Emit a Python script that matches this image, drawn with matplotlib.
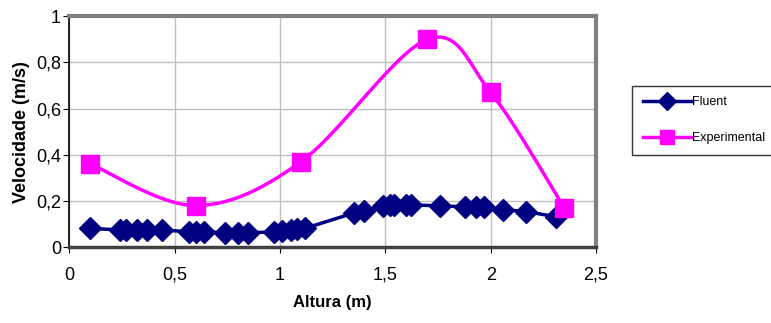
import numpy as np
import matplotlib.pyplot as plt
from matplotlib.ticker import FixedLocator, FuncFormatter

plt.rcParams['font.family'] = ['Liberation Sans', 'DejaVu Sans']

# Fluent (simulation) values
FluentX = [0.1, 0.24, 0.27, 0.32, 0.37, 0.44, 0.57, 0.6, 0.64, 0.74, 0.8, 0.85,
           0.97, 1.01, 1.05, 1.08, 1.12, 1.35, 1.4, 1.49, 1.52, 1.54, 1.6, 1.62,
           1.76, 1.88, 1.93, 1.97, 2.06, 2.17, 2.31]
FluentY = [0.081, 0.074, 0.074, 0.074, 0.074, 0.074, 0.066, 0.066, 0.066, 0.062,
           0.062, 0.062, 0.066, 0.068, 0.072, 0.077, 0.082, 0.148, 0.156, 0.178,
           0.182, 0.182, 0.183, 0.183, 0.178, 0.175, 0.175, 0.173, 0.162, 0.153,
           0.131]

# Experimental values
ExpX = [0.1, 0.6, 1.1, 1.7, 2.0, 2.35]
ExpY = [0.36, 0.18, 0.37, 0.90, 0.67, 0.17]

XTicks = [0, 0.5, 1, 1.5, 2, 2.5]
YTicks = [0, 0.2, 0.4, 0.6, 0.8, 1]


def Smooth_Line(X, Y, Steps=20):
    # Catmull-Rom style smoothing, like the spreadsheet "smoothed line"
    X = np.asarray(X, float)
    Y = np.asarray(Y, float)
    Px = np.concatenate([[X[0]], X, [X[-1]]])
    Py = np.concatenate([[Y[0]], Y, [Y[-1]]])
    OutX = []
    OutY = []
    T = np.linspace(0, 1, Steps)
    for i in range(1, len(Px) - 2):
        C1x = Px[i] + (Px[i + 1] - Px[i - 1]) / 6
        C1y = Py[i] + (Py[i + 1] - Py[i - 1]) / 6
        C2x = Px[i + 1] - (Px[i + 2] - Px[i]) / 6
        C2y = Py[i + 1] - (Py[i + 2] - Py[i]) / 6
        Bx = ((1 - T) ** 3 * Px[i] + 3 * (1 - T) ** 2 * T * C1x
              + 3 * (1 - T) * T ** 2 * C2x + T ** 3 * Px[i + 1])
        By = ((1 - T) ** 3 * Py[i] + 3 * (1 - T) ** 2 * T * C1y
              + 3 * (1 - T) * T ** 2 * C2y + T ** 3 * Py[i + 1])
        OutX.extend(Bx)
        OutY.extend(By)
    return OutX, OutY


def Comma(Value, Pos):
    Text = ("%g" % Value).replace(".", ",")
    return Text


Fig = plt.figure(figsize=(7.71, 3.23), dpi=100)
Ax = Fig.add_axes([0.090, 0.235, 0.683, 0.715])

Navy = "#000080"
Magenta = "#FF00FF"

Sx, Sy = Smooth_Line(FluentX, FluentY)
Ax.plot(Sx, Sy, color=Navy, lw=2.5, zorder=3)
Ax.plot(FluentX, FluentY, ls="none", marker="D", ms=11, color=Navy, zorder=4)

Sx, Sy = Smooth_Line(ExpX, ExpY)
Ax.plot(Sx, Sy, color=Magenta, lw=2.5, zorder=3)
Ax.plot(ExpX, ExpY, ls="none", marker="s", ms=13, color=Magenta, zorder=5)

# legend proxies
Ax.plot([], [], color=Navy, lw=2.5, marker="D", ms=9, label="Fluent")
Ax.plot([], [], color=Magenta, lw=2.5, marker="s", ms=10, label="Experimental")

Ax.set_xlim(0, 2.5)
Ax.set_ylim(0, 1)
Ax.xaxis.set_major_locator(FixedLocator(XTicks))
Ax.yaxis.set_major_locator(FixedLocator(YTicks))
Ax.xaxis.set_major_formatter(FuncFormatter(Comma))
Ax.yaxis.set_major_formatter(FuncFormatter(Comma))
Ax.tick_params(axis="both", labelsize=13, length=4, direction="out", color="black")
Ax.tick_params(axis="x", pad=10)
Ax.tick_params(axis="y", pad=2)
Ax.grid(True, color="#c0c0c0", lw=1)
Ax.set_axisbelow(True)

Ax.spines["top"].set_color("#808080")
Ax.spines["top"].set_linewidth(3)
Ax.spines["right"].set_color("#808080")
Ax.spines["right"].set_linewidth(3)
Ax.spines["left"].set_color("black")
Ax.spines["left"].set_linewidth(1.2)
Ax.spines["bottom"].set_color("#404040")
Ax.spines["bottom"].set_linewidth(2.5)
for Sp in Ax.spines.values():
    Sp.set_zorder(6)

Ax.set_xlabel("Altura (m)", fontsize=12, fontweight="bold", labelpad=8)
Ax.set_ylabel("Velocidade (m/s)", fontsize=13, fontweight="bold", labelpad=4)

Leg = Fig.legend(loc="upper left", bbox_to_anchor=(0.820, 0.735), frameon=True,
                 fancybox=False, edgecolor="black", handlelength=3.9,
                 borderpad=0.85, labelspacing=1.9, handletextpad=0.05,
                 borderaxespad=0, prop={"size": 9})
Leg.get_frame().set_linewidth(1)

Fig.savefig("out.png", dpi=100)
